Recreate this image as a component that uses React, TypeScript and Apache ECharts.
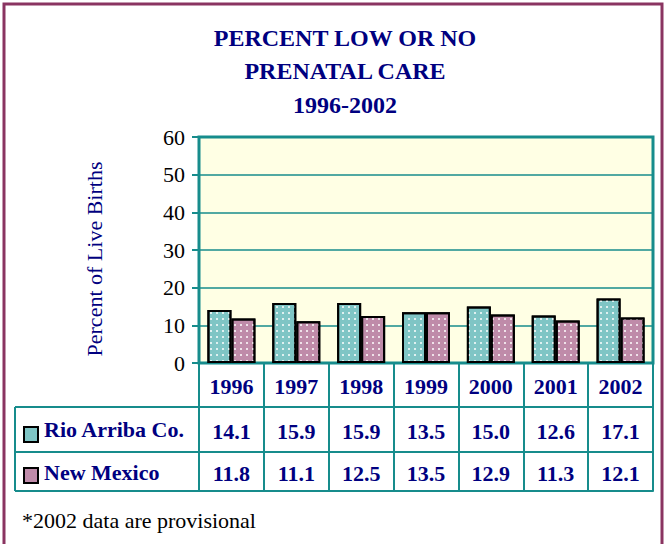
import React, { useEffect, useRef } from "react";
import * as echarts from "echarts";

const years = ["1996", "1997", "1998", "1999", "2000", "2001", "2002"];
const rioArriba = [14.1, 15.9, 15.9, 13.5, 15.0, 12.6, 17.1];
const newMexico = [11.8, 11.1, 12.5, 13.5, 12.9, 11.3, 12.1];
const seriesNames = ["Rio Arriba Co.", "New Mexico"];
const titleLines = ["PERCENT LOW OR NO", "PRENATAL CARE", "1996-2002"];
const yAxisTitle = "Percent of Live Births";
const footnote = "*2002 data are provisional";
const yMin = 0;
const yMax = 60;
const yStep = 10;

const FONT = "Liberation Serif";
const NAVY = "#000080";
const TEAL = "#178C8C";
const MAROON = "#8A3461";
const C_RIO = "#7FC5C5";
const C_NM = "#BF8BA9";

const decal = {
  symbol: "rect",
  symbolSize: 1,
  dashArrayX: [1.5, 4],
  dashArrayY: [1.5, 4],
  color: "rgba(255,255,255,0.75)",
  rotation: 0,
};

export default function App() {
  const ref = useRef<HTMLDivElement>(null);
  useEffect(() => {
    document.body.style.margin = "0";
    const chart = echarts.init(ref.current!, undefined, { renderer: "svg" });
    const gl = 199, gr = 653, gt = 137, gb = 363;
    const row1 = 44, row2 = 45, row3 = 39;
    const tabLeft = 15;
    const lineStyle = { color: TEAL, width: 2 };
    const baseX = {
      type: "category",
      gridIndex: 0,
      position: "bottom",
      axisLine: { show: true, lineStyle },
      axisLabel: { fontFamily: FONT, fontSize: 22, fontWeight: "bold", color: NAVY },
    };
    chart.setOption({
      animation: false,
      backgroundColor: "#ffffff",
      textStyle: { fontFamily: FONT },
      title: {
        text: titleLines.join("\n"),
        left: 340,
        top: 16,
        textAlign: "center",
        textStyle: { fontFamily: FONT, fontSize: 24, fontWeight: "bold", color: NAVY, lineHeight: 33.5 },
      },
      grid: {
        left: gl,
        top: gt,
        width: gr - gl,
        height: gb - gt,
        show: true,
        backgroundColor: "#FFFFE4",
        borderColor: TEAL,
        borderWidth: 3,
        containLabel: false,
      },
      xAxis: [
        {
          ...baseX,
          data: years,
          axisTick: { show: true, length: row1, lineStyle },
          axisLabel: { ...baseX.axisLabel, margin: 12 },
        },
        {
          ...baseX,
          offset: row1,
          data: rioArriba.map((v) => v.toFixed(1)),
          axisTick: { show: true, length: row2, lineStyle },
          axisLabel: { ...baseX.axisLabel, margin: 13 },
        },
        {
          ...baseX,
          offset: row1 + row2,
          data: newMexico.map((v) => v.toFixed(1)),
          axisTick: { show: true, length: row3, lineStyle },
          axisLabel: { ...baseX.axisLabel, margin: 10 },
        },
        {
          ...baseX,
          offset: row1 + row2 + row3,
          data: years,
          axisTick: { show: false },
          axisLabel: { show: false },
        },
      ],
      yAxis: {
        type: "value",
        min: yMin,
        max: yMax,
        interval: yStep,
        axisLine: { show: true, lineStyle },
        axisTick: { show: true, length: 7, lineStyle },
        axisLabel: { fontFamily: FONT, fontSize: 22, color: "#000", margin: 14 },
        splitLine: { show: true, lineStyle: { color: TEAL, width: 1.5 } },
        name: yAxisTitle,
        nameLocation: "middle",
        nameRotate: 90,
        nameGap: 94,
        nameTextStyle: { fontFamily: FONT, fontSize: 22, color: NAVY, padding: [0, 18, 0, 0] },
      },
      series: [
        {
          type: "bar",
          name: seriesNames[0],
          data: rioArriba,
          xAxisIndex: 0,
          barGap: "0%",
          barCategoryGap: "26%",
          itemStyle: { color: C_RIO, borderColor: "#000", borderWidth: 2, decal },
        },
        {
          type: "bar",
          name: seriesNames[1],
          data: newMexico,
          xAxisIndex: 0,
          barGap: "0%",
          barCategoryGap: "26%",
          itemStyle: { color: C_NM, borderColor: "#000", borderWidth: 2, decal },
        },
      ],
      graphic: [
        {
          type: "rect",
          shape: { x: 4, y: 4, width: 658, height: 600 },
          style: { fill: "none", stroke: MAROON, lineWidth: 3 },
          silent: true,
        },
        { type: "line", shape: { x1: tabLeft, y1: gb + row1, x2: gl, y2: gb + row1 }, style: { stroke: TEAL, lineWidth: 2 } },
        { type: "line", shape: { x1: tabLeft, y1: gb + row1 + row2, x2: gl, y2: gb + row1 + row2 }, style: { stroke: TEAL, lineWidth: 2 } },
        { type: "line", shape: { x1: tabLeft, y1: gb + row1 + row2 + row3, x2: gl, y2: gb + row1 + row2 + row3 }, style: { stroke: TEAL, lineWidth: 2 } },
        { type: "line", shape: { x1: tabLeft, y1: gb + row1, x2: tabLeft, y2: gb + row1 + row2 + row3 }, style: { stroke: TEAL, lineWidth: 2 } },
        {
          type: "rect",
          shape: { x: 24, y: 427, width: 14, height: 15 },
          style: { fill: C_RIO, stroke: "#000", lineWidth: 2 },
        },
        {
          type: "rect",
          shape: { x: 24, y: 468, width: 14, height: 15 },
          style: { fill: C_NM, stroke: "#000", lineWidth: 2 },
        },
        {
          type: "text",
          x: 44,
          y: gb + row1 + row2 / 2,
          style: { text: seriesNames[0], fontFamily: FONT, fontSize: 22, fontWeight: "bold", fill: NAVY, verticalAlign: "middle" },
        },
        {
          type: "text",
          x: 44,
          y: gb + row1 + row2 + row3 / 2 + 1,
          style: { text: seriesNames[1], fontFamily: FONT, fontSize: 22, fontWeight: "bold", fill: NAVY, verticalAlign: "middle" },
        },
        {
          type: "text",
          x: 22,
          y: 520,
          style: { text: footnote, fontFamily: FONT, fontSize: 22, fill: "#000", verticalAlign: "middle" },
        },
      ],
    });
    return () => chart.dispose();
  }, []);
  return <div ref={ref} style={{ width: 665, height: 544 }} />;
}
